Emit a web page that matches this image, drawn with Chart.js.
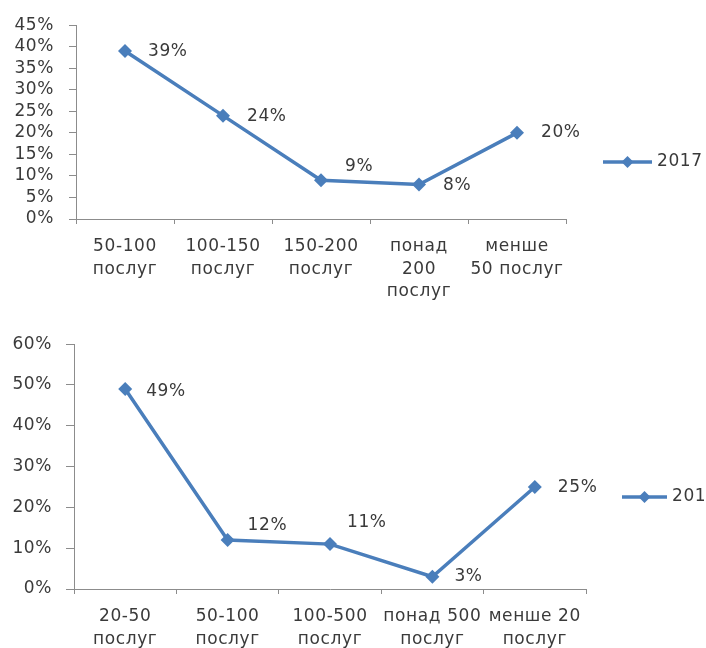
<!DOCTYPE html>
<html>
<head>
<meta charset="utf-8">
<script src="https://cdn.jsdelivr.net/npm/chart.js@4.4.1/dist/chart.umd.min.js"></script>
<style>
  html, body { margin: 0; padding: 0; background: #ffffff; width: 706px; height: 648px; overflow: hidden; }
  canvas { position: absolute; left: 0; }
  #c1 { top: 0; }
  #c2 { top: 320px; }
</style>
</head>
<body>
<canvas id="c1" width="706" height="310"></canvas>
<canvas id="c2" width="706" height="328"></canvas>
<script>
// ---- Chart 1 data ----
const categories1 = [['50-100', 'послуг'], ['100-150', 'послуг'], ['150-200', 'послуг'], ['понад', '200', 'послуг'], ['менше', '50 послуг']];
const values1 = [39, 24, 9, 8, 20];
const seriesName1 = '2017';
const yMax1 = 45, yStep1 = 5;

// ---- Chart 2 data ----
const categories2 = [['20-50', 'послуг'], ['50-100', 'послуг'], ['100-500', 'послуг'], ['понад 500', 'послуг'], ['менше 20', 'послуг']];
const values2 = [49, 12, 11, 3, 25];
const seriesName2 = '201';
const yMax2 = 60, yStep2 = 10;

const LINE = '#4a7ebb';
const TEXT = '#3a3a3a';
const AXIS = '#8c8c8c';
const FONT = 'DejaVu Sans';
const FSIZE = 17;
const SPACING = '0.6px';

function spacingPlugin() {
  return {
    id: 'spacing',
    beforeUpdate(chart) { chart.ctx.letterSpacing = SPACING; },
    beforeDraw(chart) { chart.ctx.letterSpacing = SPACING; }
  };
}

function labelsPlugin(offsets, legend) {
  return {
    id: 'extras',
    afterDatasetsDraw(chart) {
      const ctx = chart.ctx;
      const meta = chart.getDatasetMeta(0);
      const ds = chart.data.datasets[0];
      ctx.save();
      ctx.letterSpacing = SPACING;
      ctx.font = FSIZE + 'px "' + FONT + '"';
      ctx.fillStyle = TEXT;
      ctx.textAlign = 'left';
      ctx.textBaseline = 'middle';
      meta.data.forEach((pt, i) => {
        const o = offsets[i];
        ctx.fillText(ds.data[i] + '%', pt.x + o[0], pt.y + o[1]);
      });
      // legend
      ctx.strokeStyle = LINE;
      ctx.lineWidth = 3.5;
      ctx.beginPath();
      ctx.moveTo(legend.x0, legend.y);
      ctx.lineTo(legend.x1, legend.y);
      ctx.stroke();
      const cx = (legend.x0 + legend.x1) / 2, r = 6;
      ctx.fillStyle = LINE;
      ctx.beginPath();
      ctx.moveTo(cx - r, legend.y); ctx.lineTo(cx, legend.y - r);
      ctx.lineTo(cx + r, legend.y); ctx.lineTo(cx, legend.y + r);
      ctx.closePath(); ctx.fill();
      ctx.fillStyle = TEXT;
      ctx.fillText(ds.label, legend.x1 + 5, legend.y);
      ctx.restore();
    }
  };
}

function makeChart(id, cats, vals, name, yMax, yStep, area, tick, offsets, legend) {
  const canvas = document.getElementById(id);
  return new Chart(canvas, {
    type: 'line',
    data: {
      labels: cats,
      datasets: [{
        label: name,
        data: vals,
        borderColor: LINE,
        backgroundColor: LINE,
        borderWidth: 3.5,
        pointStyle: 'rectRot',
        pointRadius: 7,
        pointBorderWidth: 0,
        tension: 0,
        fill: false
      }]
    },
    options: {
      responsive: false,
      animation: false,
      devicePixelRatio: 1,
      layout: { padding: { left: 0, right: area.right, top: area.top, bottom: 0 } },
      plugins: { legend: { display: false }, tooltip: { enabled: false } },
      scales: {
        x: {
          type: 'category',
          offset: true,
          grid: { display: true, drawOnChartArea: false, drawTicks: true, tickLength: 5, color: AXIS, offset: true },
          border: { display: true, color: AXIS, width: 1 },
          ticks: { color: TEXT, font: { family: FONT, size: FSIZE, lineHeight: 1.3 }, padding: tick.xPad, maxRotation: 0, autoSkip: false },
          afterFit(s) { s.height = area.xh; }
        },
        y: {
          min: 0, max: yMax,
          grid: { display: true, drawOnChartArea: false, drawTicks: true, tickLength: tick.yLen, color: AXIS },
          border: { display: true, color: AXIS, width: 1 },
          ticks: { stepSize: yStep, autoSkip: false, color: TEXT, font: { family: FONT, size: FSIZE }, padding: tick.yPad, callback: v => v + '%' },
          afterFit(s) { s.width = area.left; }
        }
      }
    },
    plugins: [spacingPlugin(), labelsPlugin(offsets, legend)]
  });
}

makeChart('c1', categories1, values1, seriesName1, yMax1, yStep1,
  { left: 76, right: 140, top: 22, xh: 91 },
  { xPad: 12, yLen: 7, yPad: 15 },
  [[23, 1], [24, 1], [24, -14], [24, 1], [24, 0]],
  { x0: 603, x1: 652, y: 162 });

makeChart('c2', categories2, values2, seriesName2, yMax2, yStep2,
  { left: 74, right: 120, top: 23, xh: 59 },
  { xPad: 12, yLen: 8, yPad: 14 },
  [[21, 2], [20, -14], [17, -22], [22, 0], [23, 1]],
  { x0: 622, x1: 667, y: 177 });
</script>
</body>
</html>
